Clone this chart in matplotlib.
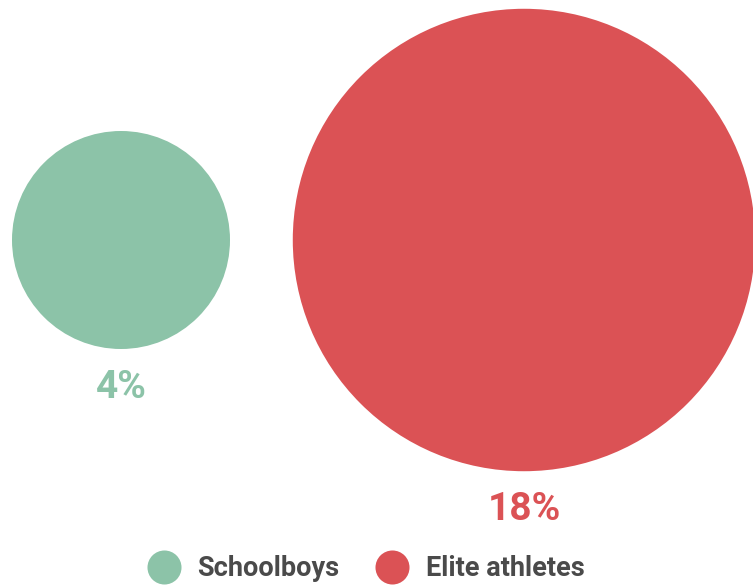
import numpy as np
import matplotlib
matplotlib.use("Agg")
import matplotlib.pyplot as plt
from matplotlib.lines import Line2D

plt.rcParams['font.family'] = ['Roboto', 'DejaVu Sans']

# Share of each group
groups = ["Schoolboys", "Elite athletes"]
values = [4, 18]
labels = ["4%", "18%"]
colors = ["#8cc3a8", "#db5255"]

W, H = 753, 588
fig = plt.figure(figsize=(W / 100, H / 100), dpi=100)
ax = fig.add_axes([0, 0, 1, 1])
ax.set_xlim(0, W)
ax.set_ylim(H, 0)
ax.axis("off")

# bubble area proportional to value; radius in pixels
px_per_unit = 109 / np.sqrt(values[0])
radii = [px_per_unit * np.sqrt(v) for v in values]
xs = [121, 524]
yc = 240

for x, r, v, lab, c in zip(xs, radii, values, labels, colors):
    ax.add_patch(plt.Circle((x, yc), r, color=c, lw=0))
    ax.text(x, yc + r + 38, lab, ha="center", va="center",
            fontsize=28, fontweight="bold", color=c)

handles = [Line2D([], [], ls="none", marker="o", markersize=24.5,
                  markerfacecolor=c, markeredgewidth=0) for c in colors]
leg = ax.legend(handles, groups, loc="center", bbox_to_anchor=(366 / W, 1 - 569 / H),
                ncol=2, frameon=False, handletextpad=0.63, columnspacing=1.37,
                prop={"size": 19.5, "weight": "bold"}, handlelength=1.2,
                borderpad=0, borderaxespad=0)
for t in leg.get_texts():
    t.set_color("#4a4a4a")

fig.savefig("out.png", dpi=100)
